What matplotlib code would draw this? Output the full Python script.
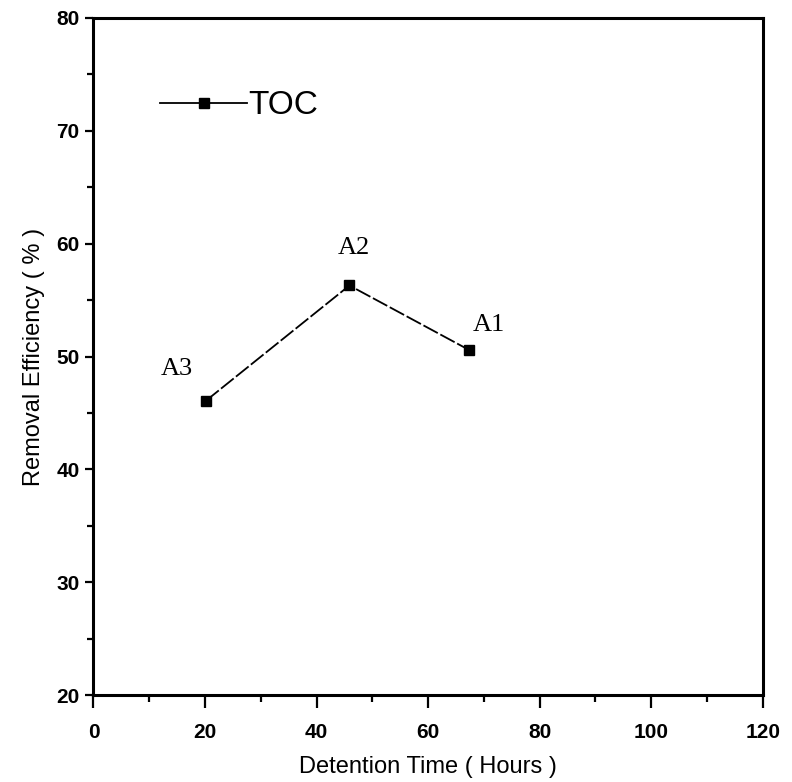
import matplotlib
matplotlib.use("Agg")
import matplotlib.pyplot as plt
from matplotlib.ticker import MultipleLocator

# data
detention_time = [20.2, 45.9, 67.3]      # hours
toc_removal = [46.1, 56.3, 50.6]         # %
point_labels = ["A3", "A2", "A1"]
label_pos = [(12.0, 48.4), (43.8, 59.1), (68.0, 52.3)]

x_ticks = [0, 20, 40, 60, 80, 100, 120]
y_ticks = [20, 30, 40, 50, 60, 70, 80]

plt.rcParams['font.family'] = ['Liberation Sans', 'DejaVu Sans']

fig = plt.figure(figsize=(7.92, 7.82), dpi=100)
ax = fig.add_axes([0.118, 0.111, 0.845, 0.866])

ax.plot(detention_time, toc_removal, color='black', linewidth=1.3,
        dashes=(9, 1.6), marker='s', markersize=7.5, label='TOC')

# point annotations in a typewriter-like serif face
for lab, (lx, ly) in zip(point_labels, label_pos):
    ax.text(lx, ly, lab, fontsize=19, family=['Liberation Serif', 'DejaVu Serif'],
            ha='left', va='baseline')

ax.set_xlim(0, 120)
ax.set_ylim(20, 80)
ax.set_xticks(x_ticks)
ax.set_yticks(y_ticks)
ax.xaxis.set_minor_locator(MultipleLocator(10))
ax.yaxis.set_minor_locator(MultipleLocator(5))

for s in ax.spines.values():
    s.set_linewidth(2.2)

ax.tick_params(axis='x', which='major', direction='out', length=9, width=1.6,
               labelsize=15, pad=11)
ax.tick_params(axis='x', which='minor', direction='out', length=5, width=1.6)
ax.tick_params(axis='y', which='major', direction='out', length=6, width=1.6,
               labelsize=15, pad=4)
ax.tick_params(axis='y', which='minor', direction='out', length=4, width=1.6)
for t in ax.get_xticklabels() + ax.get_yticklabels():
    t.set_fontweight('bold')

ax.set_xlabel('Detention Time ( Hours )', fontsize=17, labelpad=10)
ax.set_ylabel('Removal Efficiency ( % )', fontsize=17, labelpad=8)

leg = ax.legend(loc='upper left', bbox_to_anchor=(0.1, 0.893), frameon=False,
                fontsize=24, handlelength=2.6, handletextpad=0.05,
                borderpad=0, borderaxespad=0)
leg.get_lines()[0].set_linestyle('-')

fig.savefig('out.png', dpi=100)
